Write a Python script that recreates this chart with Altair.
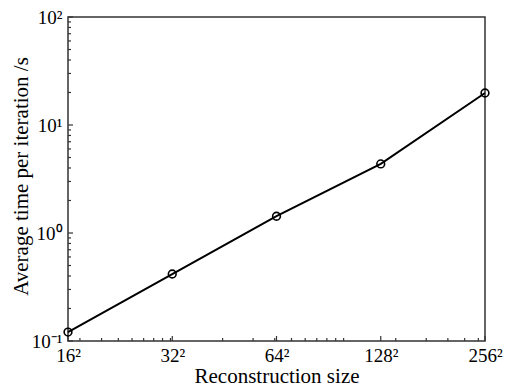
import altair as alt
import pandas as pd

# data
sizes = [16, 32, 64, 128, 256]
pixels = [n * n for n in sizes]
times = [0.121, 0.417, 1.43, 4.36, 19.8]

x_major = [256, 1024, 4096, 16384, 65536]
x_minor = [300, 400, 500, 600, 700, 800, 900, 1000,
           2000, 3000, 4000, 5000, 6000, 7000, 8000, 9000, 10000,
           20000, 30000, 40000, 50000, 60000]
y_major = [0.1, 1, 10, 100]
y_minor = [0.2, 0.3, 0.4, 0.5, 0.6, 0.7, 0.8, 0.9,
           2, 3, 4, 5, 6, 7, 8, 9,
           20, 30, 40, 50, 60, 70, 80, 90]

W, H = 417, 324
FONT = "Liberation Serif"

df = pd.DataFrame({"px": pixels, "t": times})
xs = alt.Scale(type="log", domain=[256, 65536], nice=False)
ys = alt.Scale(type="log", domain=[0.1, 100], nice=False)

ylab = ("datum.value < 0.5 ? '10⁻¹' : datum.value < 5 ? '10⁰' : "
        "datum.value < 50 ? '10¹' : '10²'")

x_axis = alt.Axis(values=x_major, labelExpr="sqrt(datum.value) + '²'",
                  tickSize=0, domain=False, grid=False,
                  labelFont=FONT, labelFontSize=19, labelColor="black",
                  labelPadding=5, labelFlush=False,
                  title="Reconstruction size", titleFont=FONT,
                  titleFontSize=21, titleFontWeight="normal", titleColor="black",
                  titleY=35, titleBaseline="middle")
y_axis = alt.Axis(values=y_major, labelExpr=ylab,
                  tickSize=0, domain=False, grid=False,
                  labelFont=FONT, labelFontSize=19, labelColor="black",
                  labelPadding=6, labelFlush=False,
                  title="Average time per iteration /s", titleFont=FONT,
                  titleFontSize=21, titleFontWeight="normal", titleColor="black",
                  titleX=-47, titleY=159, titleAngle=-90, titleAlign="center",
                  titleBaseline="middle")

line = alt.Chart(df).mark_line(color="black", strokeWidth=2).encode(
    x=alt.X("px:Q", scale=xs, axis=x_axis),
    y=alt.Y("t:Q", scale=ys, axis=y_axis),
)
pts = alt.Chart(df).mark_point(shape="circle", filled=False, color="black",
                               size=60, strokeWidth=1.6, opacity=1).encode(
    x=alt.X("px:Q", scale=xs), y=alt.Y("t:Q", scale=ys))

xmaj = alt.Chart(pd.DataFrame({"v": x_major})).mark_rule(color="#333", strokeWidth=1.2).encode(
    x=alt.X("v:Q", scale=xs), y=alt.value(H), y2=alt.value(H - 5))
xmin = alt.Chart(pd.DataFrame({"v": x_minor})).mark_rule(color="#333", strokeWidth=1.2).encode(
    x=alt.X("v:Q", scale=xs), y=alt.value(H), y2=alt.value(H - 3))
ymaj = alt.Chart(pd.DataFrame({"v": y_major})).mark_rule(color="#333", strokeWidth=1.2).encode(
    y=alt.Y("v:Q", scale=ys), x=alt.value(0), x2=alt.value(5))
ymin = alt.Chart(pd.DataFrame({"v": y_minor})).mark_rule(color="#333", strokeWidth=1.2).encode(
    y=alt.Y("v:Q", scale=ys), x=alt.value(0), x2=alt.value(3))

chart = alt.layer(xmin, xmaj, ymin, ymaj, line, pts).properties(
    width=W, height=H,
    padding={"left": 60, "top": 9, "right": 18, "bottom": 47},
    autosize="none",
).configure_view(stroke="#333", strokeWidth=1.5)

chart.save("out.html", embed_options={"renderer": "svg", "actions": False})
